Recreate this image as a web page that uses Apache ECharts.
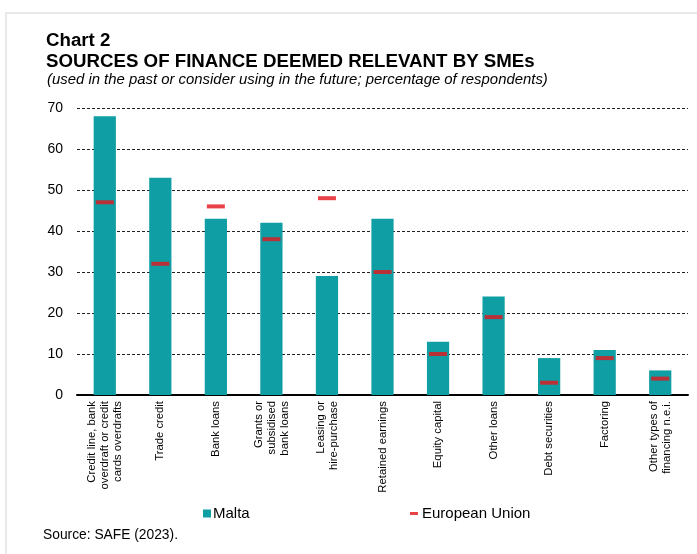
<!DOCTYPE html>
<html>
<head>
<meta charset="utf-8">
<script src="https://cdn.jsdelivr.net/npm/echarts@6/dist/echarts.min.js"></script>
<style>
html,body{margin:0;padding:0;background:#fff;}
#chart{width:697px;height:554px;}
</style>
</head>
<body>
<div id="chart"></div>
<script>
var categories = [
  'Credit line, bank\noverdraft or credit\ncards overdrafts',
  'Trade credit',
  'Bank loans',
  'Grants or\nsubsidised\nbank loans',
  'Leasing or\nhire-purchase',
  'Retained earnings',
  'Equity capital',
  'Other loans',
  'Debt securities',
  'Factoring',
  'Other types of\nfinancing n.e.i.'
];
var maltaValues = [68, 53, 43, 42, 29, 43, 13, 24, 9, 11, 6];
var euValues = [47, 32, 46, 38, 48, 30, 10, 19, 3, 9, 4];
var yTicks = [0, 10, 20, 30, 40, 50, 60, 70];

var FONT = "'Liberation Sans', Arial, sans-serif";
var chart = echarts.init(document.getElementById('chart'), null, {renderer: 'canvas'});
chart.setOption({
  animation: false,
  backgroundColor: '#fff',
  textStyle: {fontFamily: FONT, color: '#000'},
  graphic: [
    {type: 'rect', shape: {x: 5, y: 12, width: 700, height: 2}, style: {fill: '#e9e9e9'}, silent: true},
    {type: 'rect', shape: {x: 5, y: 12, width: 2, height: 560}, style: {fill: '#e9e9e9'}, silent: true},
    {type: 'text', left: 46, top: 31, style: {text: 'Chart 2', font: "bold 18.7px 'Liberation Sans', Arial", fill: '#000'}},
    {type: 'text', left: 46, top: 52, style: {text: 'SOURCES OF FINANCE DEEMED RELEVANT BY SMEs', font: "bold 18.7px 'Liberation Sans', Arial", fill: '#000'}},
    {type: 'text', left: 47, top: 72, style: {text: '(used in the past or consider using in the future; percentage of respondents)', font: "italic 14.9px 'Liberation Sans', Arial", fill: '#000'}},
    {type: 'text', left: 43, top: 528, style: {text: 'Source: SAFE (2023).', font: "13.8px 'Liberation Sans', Arial", fill: '#000'}}
  ],
  grid: {left: 77, right: 9, top: 108, bottom: 159, containLabel: false},
  legend: [
    {
      data: [{name: 'Malta', icon: 'rect'}],
      left: 203, top: 506, padding: 0, itemWidth: 8, itemHeight: 8,
      textStyle: {fontSize: 15, fontFamily: FONT, color: '#000', padding: [0, 0, 0, -3]},
      selectedMode: false
    },
    {
      data: [{name: 'European Union', icon: 'rect'}],
      left: 410, top: 506, padding: 0, itemWidth: 8, itemHeight: 3,
      textStyle: {fontSize: 15, fontFamily: FONT, color: '#000', padding: [0, 0, 0, -1]},
      selectedMode: false
    }
  ],
  xAxis: {
    type: 'category',
    data: categories,
    axisTick: {show: false},
    axisLine: {show: true, lineStyle: {color: '#000', width: 2}},
    axisLabel: {
      interval: 0, rotate: 90, fontSize: 11.3, lineHeight: 13,
      color: '#000', fontFamily: FONT, margin: 6
    }
  },
  yAxis: {
    type: 'value',
    min: yTicks[0], max: yTicks[yTicks.length - 1], interval: 10,
    axisLine: {show: false},
    axisTick: {show: false},
    axisLabel: {fontSize: 14, color: '#000', fontFamily: FONT, margin: 14},
    splitLine: {show: true, lineStyle: {color: '#222', width: 1, type: [3, 2]}}
  },
  series: [
    {
      name: 'Malta',
      type: 'bar',
      data: maltaValues,
      barWidth: '40%',
      itemStyle: {color: '#0f9ea4'},
      z: 2
    },
    {
      name: 'European Union',
      type: 'scatter',
      data: euValues,
      symbol: 'rect',
      symbolSize: [18, 4],
      itemStyle: {color: '#e3141b'},
      z: 3
    }
  ]
});
</script>
</body>
</html>
